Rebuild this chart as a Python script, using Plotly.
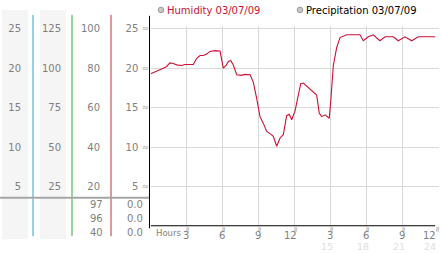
import plotly.graph_objects as go

W, H = 442, 253

# ---------------- data ----------------
hours = [0, 0.5, 1.05, 1.33, 1.6, 1.88, 2.17, 2.58, 2.86, 3.55,
         3.83, 4.11, 4.38, 4.67, 4.94, 5.36, 5.78, 6.05, 6.28, 6.47,
         6.67, 6.88, 7.17, 7.58, 7.86, 8.28, 8.55, 8.83, 9.11, 9.38,
         9.67, 9.94, 10.22, 10.5, 10.63, 10.78, 11.05, 11.33, 11.55, 11.75,
         12.03, 12.3, 12.5, 12.72, 13.0, 13.28, 13.55, 13.83, 14.05, 14.25,
         14.53, 14.88, 15.0, 15.22, 15.5, 15.78, 16.33, 17.17, 17.44, 17.72,
         18.13, 18.55, 19.1, 19.53, 20.22, 20.63, 21.19, 21.75, 22.3, 23.7]
humidity = [77.2, 78.4, 80, 80.9, 82.7, 82.4, 81.7, 81.4, 81.9, 81.9,
            85, 86.4, 86.4, 87.2, 88.5, 88.9, 88.7, 80, 81.4, 83.4,
            83.9, 81.7, 76.7, 76.4, 76.9, 76.7, 73, 64.7, 55.5, 52.2,
            48, 46.9, 45.5, 40.5, 42.2, 44.7, 46.4, 56, 56.7, 53.9,
            58.4, 67.2, 72.2, 72.5, 71, 69.7, 68, 66.4, 57.2, 55.5,
            56.4, 54.7, 63, 81.4, 90.5, 95.5, 96.9, 96.9, 96.9, 93.9,
            95.9, 96.9, 93.9, 95.9, 95.9, 93.9, 95.9, 93.9, 95.9, 95.9]
precip_hours = [0.0, 23.7]
precip_values = [0.0, 0.0]

x_ticks = [3, 6, 9, 12, 15, 18, 21, 24]
x_ticktext = ["3", "6", "9", "12", "3", "6", "9", "12"]
x_ticktext2 = ["", "", "", "", "15", "18", "21", "24"]

col1_ticks = [5, 10, 15, 20, 25]
col2_ticks = [25, 50, 75, 100, 125]
col3_ticks = [20, 40, 60, 80, 100]
col4_ticks = [5, 10, 15, 20, 25]

table_col3 = ["97", "96", "40"]
table_col4 = ["0.0", "0.0", "0.0"]

legend_labels = ["Humidity 03/07/09", "Precipitation 03/07/09"]

# ---------------- helpers ----------------
def px(x):
    return x / W

def py(y):
    return 1 - y / H

TOP = 101.5  # range headroom so grid verticals poke above the 100 line
FONT = "DejaVu Sans"
GRAY = "#7f7f7f"

fig = go.Figure()
fig.add_trace(go.Scatter(x=precip_hours, y=precip_values, mode="lines",
                         line=dict(color="black", width=2), hoverinfo="skip",
                         showlegend=False))
fig.add_trace(go.Scatter(x=hours, y=humidity, mode="lines",
                         line=dict(color="#cc1133", width=1.1),
                         showlegend=False, line_shape="linear"))

# dummy traces to realise the extra y axes
for i in range(2, 6):
    fig.add_trace(go.Scatter(x=[None], y=[None], yaxis=f"y{i}", showlegend=False,
                             hoverinfo="skip"))

x0, x1 = px(150.7), px(438.7)
y0, y1 = py(226), py(23)

fig.update_layout(
    width=W, height=H, margin=dict(l=0, r=0, t=0, b=0),
    paper_bgcolor="white", plot_bgcolor="white",
    font=dict(family=FONT, size=10, color=GRAY),
    xaxis=dict(domain=[x0, x1], range=[0, 24], tickvals=x_ticks,
               showticklabels=False, ticks="", showgrid=True,
               gridcolor="#d9d9d9", gridwidth=1, zeroline=False, showline=False),
    yaxis=dict(domain=[y0, y1], range=[0, TOP], tickvals=col3_ticks,
               showticklabels=False, ticks="", showgrid=True,
               gridcolor="#d9d9d9", gridwidth=1, zeroline=False, showline=False),
)

def free_axis(pos_px, scale, ticks, standoff):
    return dict(overlaying="y", anchor="free", position=px(pos_px), side="left",
                range=[0, scale * TOP / 100], tickvals=ticks,
                ticktext=[str(t) for t in ticks], ticks="", showgrid=False,
                zeroline=False, showline=False, ticklabelstandoff=standoff,
                tickfont=dict(family=FONT, size=10, color=GRAY))

fig.update_layout(
    yaxis2=free_axis(33, 25, col1_ticks, 12),
    yaxis3=free_axis(72, 125, col2_ticks, 11),
    yaxis4=free_axis(111, 100, col3_ticks, 11),
    yaxis5=free_axis(149.3, 25, col4_ticks, 11),
)

shapes = []
# grey column panels
for a, b in [(2, 28), (40, 66)]:
    shapes.append(dict(type="rect", xref="paper", yref="paper", x0=px(a), x1=px(b),
                       y0=py(239), y1=py(7), fillcolor="#f5f5f5", line_width=0,
                       layer="below"))
# coloured scale lines
for xp, c in [(33, "#3b9fcf"), (72, "#3aa53a"), (111, "#c23030")]:
    shapes.append(dict(type="line", xref="paper", yref="paper", x0=px(xp), x1=px(xp),
                       y0=py(236), y1=py(12), line=dict(color=c, width=1)))
# grey separator line
shapes.append(dict(type="line", xref="paper", yref="paper", x0=0, x1=px(149.5),
                   y0=py(197), y1=py(197), line=dict(color="#a6a6a6", width=2)))
# black y axis line
shapes.append(dict(type="line", xref="paper", yref="paper", x0=px(149.5), x1=px(149.5),
                   y0=py(228), y1=py(13), line=dict(color="black", width=1)))
# legend bullets
for xc in [161, 300]:
    shapes.append(dict(type="circle", xref="paper", yref="paper",
                       x0=px(xc - 2.8), x1=px(xc + 2.8), y0=py(9.8), y1=py(4.2),
                       fillcolor="#c8c8c8", line=dict(color="#999999", width=1)))
fig.update_layout(shapes=shapes)

ann = []
# legend text
ann.append(dict(x=px(165), y=py(7.5), xref="paper", yref="paper", text=legend_labels[0],
                showarrow=False, xanchor="left", yanchor="middle",
                font=dict(family=FONT, size=10, color="#cc1133")))
ann.append(dict(x=px(304), y=py(7.5), xref="paper", yref="paper", text=legend_labels[1],
                showarrow=False, xanchor="left", yanchor="middle",
                font=dict(family=FONT, size=10, color="black")))
# x tick labels
last = x_ticks[-1]
for t, lab, lab2 in zip(x_ticks, x_ticktext, x_ticktext2):
    shift = -1.5 if t == last else 3.5
    ann.append(dict(x=t, y=py(235), xref="x", yref="paper", text=lab, showarrow=False,
                    xanchor="right", yanchor="middle", xshift=shift, borderpad=0,
                    font=dict(family=FONT, size=10, color=GRAY)))
    ann.append(dict(x=t, y=py(229.5), xref="x", yref="paper", text="≈", showarrow=False,
                    xanchor="center", yanchor="middle", textangle=90,
                    xshift=0.5 if t != last else -1, borderpad=0,
                    font=dict(family=FONT, size=8, color="#9a9a9a")))
    if lab2:
        ann.append(dict(x=t, y=py(246.3), xref="x", yref="paper", text=lab2, showarrow=False,
                        xanchor="right", yanchor="middle", xshift=shift, borderpad=0,
                        font=dict(family=FONT, size=9.5, color="#e0e0e0")))
# y tick marks next to the inner scale
for t in col3_ticks:
    ann.append(dict(x=px(145.5), y=t, xref="paper", yref="y", text="≈", showarrow=False,
                    xanchor="center", yanchor="middle", borderpad=0,
                    font=dict(family=FONT, size=8, color="#9a9a9a")))
ann.append(dict(x=px(153.5), y=py(232.5), xref="paper", yref="paper", text="Hours",
                showarrow=False, xanchor="left", yanchor="middle",
                font=dict(family=FONT, size=8.5, color=GRAY)))
# summary table
for i, (a, b) in enumerate(zip(table_col3, table_col4)):
    yy = py(204.3 + 14 * i)
    ann.append(dict(x=px(105), y=yy, xref="paper", yref="paper", text=a, showarrow=False,
                    xanchor="right", yanchor="middle",
                    font=dict(family=FONT, size=10, color=GRAY)))
    ann.append(dict(x=px(144.5), y=yy, xref="paper", yref="paper", text=b, showarrow=False,
                    xanchor="right", yanchor="middle",
                    font=dict(family=FONT, size=10, color=GRAY)))
fig.update_layout(annotations=ann)

fig.write_html("out.html")
